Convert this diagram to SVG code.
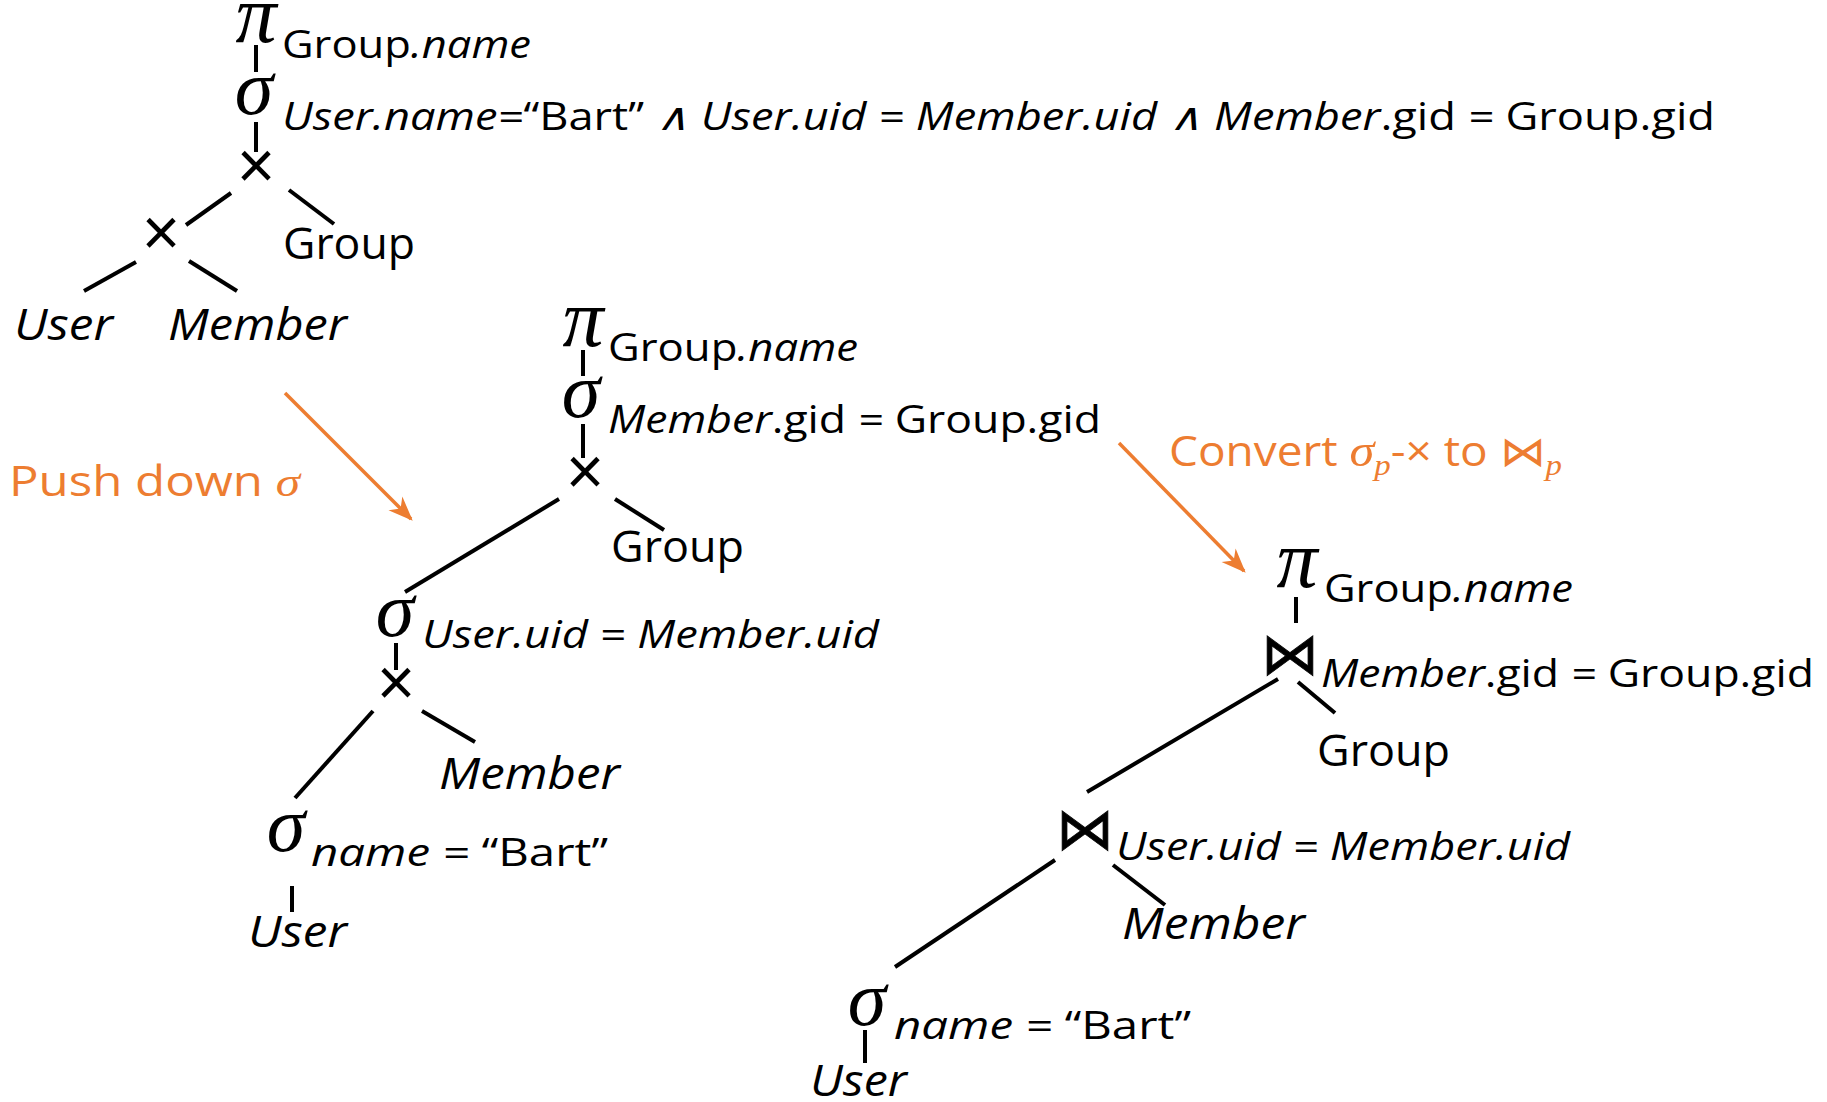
<svg xmlns="http://www.w3.org/2000/svg" width="1827" height="1102" viewBox="0 0 1827 1102">
<defs>
<style>
.op{font-family:"Liberation Serif","DejaVu Serif",serif;font-style:italic;font-size:82px;fill:#000;text-anchor:middle}
.sg{font-size:78px}
.x{font-family:"Liberation Sans",sans-serif;font-size:66px;fill:#000;text-anchor:middle}
.bt{font-family:"DejaVu Sans",sans-serif;font-size:58px;fill:#000;stroke:#000;stroke-width:0.8;text-anchor:middle}
.sub{font-family:"Open Sans","Liberation Sans",sans-serif;font-size:38px;fill:#000;font-style:italic}
.leaf{font-family:"Open Sans","Liberation Sans",sans-serif;font-size:44px;fill:#000;font-style:italic}
.up{font-style:normal}
.or{font-family:"Open Sans","Liberation Sans",sans-serif;font-size:42px;fill:#ED7D31}
.m{font-family:"Liberation Serif","DejaVu Serif",serif;font-style:italic}
.e{stroke:#000;stroke-width:4;fill:none}
.arr{stroke:#ED7D31;stroke-width:3.5;fill:none}
</style>
<marker id="ah" viewBox="0 0 20 20" refX="18" refY="10" markerWidth="7" markerHeight="7" orient="auto" markerUnits="strokeWidth">
<path d="M0,2 L20,10 L0,18 L6,10 Z" fill="#ED7D31"/>
</marker>
</defs>

<g id="connectors">
<!-- tree 1 -->
<line class="e" x1="256" y1="45" x2="256" y2="72"/>
<line class="e" x1="256" y1="122" x2="256" y2="152"/>
<line class="e" x1="231" y1="193" x2="186" y2="225"/>
<line class="e" x1="289" y1="190" x2="334" y2="224"/>
<line class="e" x1="136" y1="262" x2="84" y2="291"/>
<line class="e" x1="189" y1="261" x2="237" y2="291"/>
<!-- tree 2 -->
<line class="e" x1="583" y1="350" x2="583" y2="376"/>
<line class="e" x1="583" y1="424" x2="583" y2="458"/>
<line class="e" x1="559" y1="499" x2="405" y2="592"/>
<line class="e" x1="615" y1="499" x2="664" y2="530"/>
<line class="e" x1="396" y1="643" x2="396" y2="670"/>
<line class="e" x1="373" y1="711" x2="295" y2="798"/>
<line class="e" x1="422" y1="711" x2="475" y2="742"/>
<line class="e" x1="292" y1="886" x2="292" y2="912"/>
<!-- tree 3 -->
<line class="e" x1="1296" y1="597" x2="1296" y2="623"/>
<line class="e" x1="1278" y1="679" x2="1087" y2="792"/>
<line class="e" x1="1298" y1="682" x2="1335" y2="713"/>
<line class="e" x1="1055" y1="860" x2="895" y2="967"/>
<line class="e" x1="1113" y1="865" x2="1165" y2="905"/>
<line class="e" x1="865" y1="1030" x2="865" y2="1063"/>
<!-- transformation arrows -->
<line class="arr" x1="285" y1="393" x2="411" y2="519" marker-end="url(#ah)"/>
<line class="arr" x1="1119" y1="443" x2="1244" y2="571" marker-end="url(#ah)"/>
</g>

<g id="tree1">
<g id="t1-pi"><text class="op" x="256" y="42">π</text><text class="sub" x="282" y="58" textLength="249" lengthAdjust="spacingAndGlyphs"><tspan class="up">Group</tspan>.name</text></g>
<g id="t1-sigma"><text class="op sg" x="254" y="114">σ</text><text class="sub" x="282" y="130" textLength="1433" lengthAdjust="spacingAndGlyphs">User.name=<tspan class="up">“Bart”</tspan> ∧ User.uid = Member.uid ∧ Member<tspan class="up">.gid</tspan> = <tspan class="up">Group.gid</tspan></text></g>
<g id="t1-x1"><text class="x" x="256" y="188">×</text></g>
<g id="t1-x2"><text class="x" x="161" y="255">×</text></g>
<g id="t1-group"><text class="leaf up" x="283" y="259" textLength="132" lengthAdjust="spacingAndGlyphs">Group</text></g>
<g id="t1-user"><text class="leaf" x="14" y="340" textLength="99" lengthAdjust="spacingAndGlyphs">User</text></g>
<g id="t1-member"><text class="leaf" x="168" y="340" textLength="179" lengthAdjust="spacingAndGlyphs">Member</text></g>
</g>

<g id="label1"><text class="or" x="9" y="496" textLength="291" lengthAdjust="spacingAndGlyphs">Push down <tspan class="m">σ</tspan></text></g>

<g id="tree2">
<g id="t2-pi"><text class="op" x="583" y="346">π</text><text class="sub" x="608" y="361" textLength="250" lengthAdjust="spacingAndGlyphs"><tspan class="up">Group</tspan>.name</text></g>
<g id="t2-sigma1"><text class="op sg" x="581" y="417">σ</text><text class="sub" x="608" y="433" textLength="493" lengthAdjust="spacingAndGlyphs">Member<tspan class="up">.gid</tspan> = <tspan class="up">Group.gid</tspan></text></g>
<g id="t2-x1"><text class="x" x="585" y="494">×</text></g>
<g id="t2-group"><text class="leaf up" x="611" y="562" textLength="133" lengthAdjust="spacingAndGlyphs">Group</text></g>
<g id="t2-sigma2"><text class="op sg" x="395" y="636">σ</text><text class="sub" x="422" y="648" textLength="457" lengthAdjust="spacingAndGlyphs">User.uid = Member.uid</text></g>
<g id="t2-x2"><text class="x" x="396" y="705">×</text></g>
<g id="t2-member"><text class="leaf" x="439" y="789" textLength="181" lengthAdjust="spacingAndGlyphs">Member</text></g>
<g id="t2-sigma3"><text class="op sg" x="286" y="851">σ</text><text class="sub" x="311" y="866" textLength="297" lengthAdjust="spacingAndGlyphs">name = <tspan class="up">“Bart”</tspan></text></g>
<g id="t2-user"><text class="leaf" x="248" y="947" textLength="99" lengthAdjust="spacingAndGlyphs">User</text></g>
</g>

<g id="label2"><text class="or" x="1169" y="466" textLength="393" lengthAdjust="spacingAndGlyphs">Convert <tspan class="m" font-size="46">σ</tspan><tspan class="m" font-size="30" dy="9">p</tspan><tspan dy="-9">-× to ⋈</tspan><tspan class="m" font-size="30" dy="9">p</tspan></text></g>

<g id="tree3">
<g id="t3-pi"><text class="op" x="1297" y="587">π</text><text class="sub" x="1324" y="602" textLength="249" lengthAdjust="spacingAndGlyphs"><tspan class="up">Group</tspan>.name</text></g>
<g id="t3-join1"><text class="bt" x="1290" y="674">⋈</text><text class="sub" x="1321" y="687" textLength="493" lengthAdjust="spacingAndGlyphs">Member<tspan class="up">.gid</tspan> = <tspan class="up">Group.gid</tspan></text></g>
<g id="t3-group"><text class="leaf up" x="1317" y="766" textLength="133" lengthAdjust="spacingAndGlyphs">Group</text></g>
<g id="t3-join2"><text class="bt" x="1085" y="849">⋈</text><text class="sub" x="1116" y="860" textLength="454" lengthAdjust="spacingAndGlyphs">User.uid = Member.uid</text></g>
<g id="t3-member"><text class="leaf" x="1122" y="939" textLength="183" lengthAdjust="spacingAndGlyphs">Member</text></g>
<g id="t3-sigma"><text class="op sg" x="867" y="1025">σ</text><text class="sub" x="894" y="1039" textLength="297" lengthAdjust="spacingAndGlyphs">name = <tspan class="up">“Bart”</tspan></text></g>
<g id="t3-user"><text class="leaf" x="810" y="1096" textLength="97" lengthAdjust="spacingAndGlyphs">User</text></g>
</g>
</svg>
